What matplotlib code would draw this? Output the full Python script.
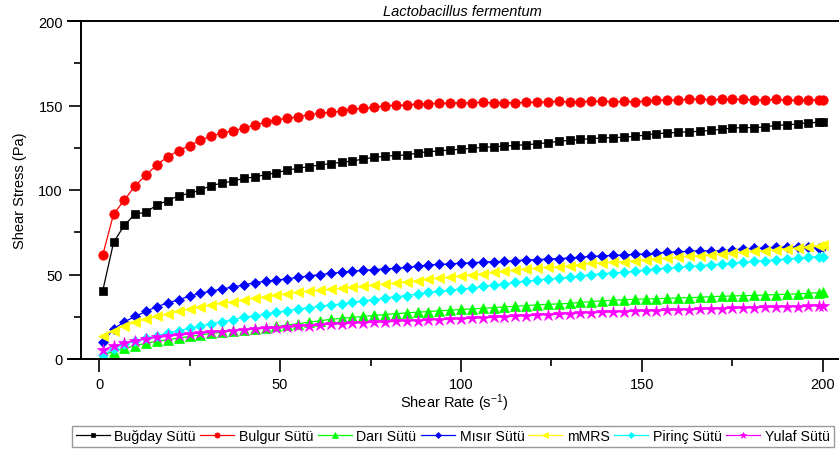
import numpy as np
import matplotlib
matplotlib.use("Agg")
import matplotlib.pyplot as plt
from matplotlib.ticker import MultipleLocator

plt.rcParams["font.family"] = ["Liberation Sans", "DejaVu Sans"]
plt.rcParams["mathtext.fontset"] = "custom"
plt.rcParams["mathtext.rm"] = "Liberation Sans"
plt.rcParams["mathtext.it"] = "Liberation Sans:italic"

# Shear rate grid (s^-1)
shear_rate = np.append(np.arange(1, 200, 3), 200)

bugday = [40.4, 69.0, 79.3, 85.8, 86.8, 91.3, 93.7, 96.6, 98.0, 100.0,
          102.6, 104.1, 105.3, 106.9, 107.7, 109.1, 110.2, 111.8, 112.8, 113.9,
          114.8, 115.6, 116.4, 117.2, 118.3, 119.3, 119.9, 120.5, 120.7, 121.9,
          122.7, 123.1, 123.7, 124.1, 124.7, 125.2, 125.6, 126.0, 126.4,
          126.8, 127.3, 128.0, 128.8, 129.4, 129.9, 130.4, 130.8, 131.0,
          131.2, 131.8, 132.5, 133.3, 133.7, 134.1, 134.5, 134.7, 135.3, 135.9,
          136.7, 136.9, 136.9, 137.3, 138.3, 138.5, 139.1, 139.8, 140.0,
          140.4]

bulgur = [61.5, 85.8, 94.1, 102.6, 108.9, 115.0, 119.7, 123.3, 126.2, 129.6,
          131.8, 133.7, 135.1, 136.5, 138.5, 140.0, 141.6, 142.4, 143.4, 144.4,
          145.4, 146.0, 146.7, 147.9, 148.3, 148.9, 149.9, 150.1, 150.1, 151.1,
          151.1, 151.3, 151.5, 151.7, 151.7, 151.9, 151.5, 151.7, 151.7,
          151.9, 151.9, 152.3, 152.5, 152.1, 152.3, 152.5, 152.5, 152.3,
          152.4, 152.3, 152.7, 153.3, 153.3, 153.3, 153.8, 153.8, 153.4, 153.8,
          153.6, 153.6, 153.3, 153.3, 153.6, 153.1, 153.1, 153.4, 153.3,
          153.3]

dari = [2.6, 4.3, 6.3, 7.9, 9.3, 10.5, 11.4, 12.4, 13.4, 14.2,
        15.2, 15.8, 16.8, 17.2, 17.8, 18.5, 19.3, 20.1, 20.9, 21.8,
        22.6, 23.5, 24.1, 24.6, 25.2, 25.8, 26.3, 26.8, 27.3, 27.7,
        28.1, 28.5, 28.9, 29.3, 29.6, 30.0, 30.4, 30.8, 31.2,
        31.6, 32.0, 32.4, 32.6, 32.9, 33.5, 33.9, 34.5, 34.7,
        35.1, 35.3, 35.5, 35.7, 35.9, 36.1, 36.3, 36.5, 36.9, 37.1,
        37.3, 37.5, 37.6, 37.9, 38.1, 38.3, 38.5, 38.9, 39.3,
        39.4]

misir = [9.9, 17.8, 22.1, 25.2, 28.2, 31.0, 33.1, 35.1, 37.1, 38.9,
         40.2, 41.4, 42.6, 43.8, 45.2, 46.0, 46.7, 47.5, 48.3, 49.1,
         50.0, 50.7, 51.3, 51.9, 52.5, 52.9, 53.3, 53.6, 54.2, 54.8,
         55.6, 56.0, 56.2, 56.8, 56.9, 57.4, 57.6, 57.8, 58.2,
         58.6, 58.8, 59.2, 59.4, 59.8, 60.2, 60.7, 61.0, 61.3,
         61.6, 61.9, 62.1, 62.7, 63.1, 63.5, 63.7, 64.1, 63.9, 64.1,
         64.7, 65.1, 65.5, 65.7, 66.1, 66.1, 66.5, 66.5, 65.9,
         66.1]

mmrs = [13.6, 16.8, 19.7, 21.7, 23.7, 25.2, 26.6, 28.2, 29.6, 31.0,
        32.0, 33.1, 33.9, 34.9, 36.1, 36.9, 37.9, 38.7, 39.4, 40.1,
        40.7, 41.4, 41.8, 42.4, 43.0, 43.8, 44.4, 45.0, 45.8, 46.4,
        47.3, 47.9, 48.3, 49.3, 49.9, 50.3, 51.3, 51.8, 52.7,
        53.3, 53.6, 54.2, 54.6, 55.2, 55.8, 56.6, 57.0, 57.3,
        57.6, 58.2, 58.8, 59.2, 59.6, 60.2, 60.7, 61.1, 61.7, 62.1,
        62.7, 63.1, 63.7, 64.1, 64.7, 65.1, 65.7, 66.5, 67.1,
        67.5]

pirinc = [2.2, 6.0, 8.9, 10.5, 12.4, 13.8, 15.4, 16.8, 18.1, 19.7,
          20.7, 22.1, 23.3, 24.6, 25.6, 26.6, 27.6, 28.6, 29.6, 30.3,
          31.2, 32.0, 32.5, 33.5, 34.5, 35.1, 36.1, 36.9, 37.5, 38.5,
          39.4, 40.0, 40.8, 41.4, 42.0, 43.0, 43.8, 44.4, 45.4,
          45.9, 46.7, 47.3, 47.9, 48.3, 49.3, 49.9, 50.5, 50.9,
          51.3, 51.9, 52.7, 53.3, 53.8, 54.2, 54.8, 55.2, 55.8, 56.2,
          56.8, 57.2, 57.8, 58.2, 58.8, 59.2, 59.6, 60.2, 60.5,
          60.6]

yulaf = [5.3, 7.9, 9.3, 10.8, 11.8, 12.8, 13.4, 14.2, 14.8, 15.4,
         15.8, 16.2, 16.8, 17.2, 17.8, 18.1, 18.3, 18.7, 19.3, 19.7,
         20.1, 20.7, 20.9, 21.1, 21.5, 21.7, 21.9, 22.3, 22.5, 22.7,
         23.1, 23.3, 23.5, 23.7, 24.1, 24.3, 24.6, 25.0, 25.3,
         25.6, 25.9, 26.2, 26.5, 26.8, 27.1, 27.4, 27.6, 27.8,
         28.0, 28.2, 28.4, 28.6, 28.8, 29.0, 29.2, 29.4, 29.6, 29.8,
         30.0, 30.2, 30.4, 30.6, 30.8, 30.8, 31.0, 31.2, 31.6,
         31.6]

series_names = ["Buğday Sütü", "Bulgur Sütü", "Darı Sütü", "Mısır Sütü",
                "mMRS", "Pirinç Sütü", "Yulaf Sütü"]
series_values = [bugday, bulgur, dari, misir, mmrs, pirinc, yulaf]
colors = ["#000000", "#FF0000", "#00FF00", "#0000FF", "#FFFF00", "#00FFFF", "#FF00FF"]
markers = ["s", "o", "^", "D", "<", "D", "*"]
msizes = [6.0, 6.8, 6.8, 5.6, 7.0, 5.6, 8.6]

W, H = 839, 452
fig = plt.figure(figsize=(W / 100, H / 100), dpi=100)

x_lo, x_hi = -8.6, 205.0
ax = fig.add_axes([68 / W, (H - 360) / H, (841 - 68) / W, (360 - 22) / H])

for name, vals, c, m, ms in zip(series_names, series_values, colors, markers, msizes):
    ax.plot(shear_rate, vals, color=c, marker=m, markersize=ms, linewidth=0.9,
            markeredgewidth=0.5, markeredgecolor=c, label=name)

ax.set_xlim(x_lo, x_hi)
ax.set_ylim(0, 200)

ax.spines["left"].set_position(("data", -5.0))
ax.spines["right"].set_visible(False)
for s in ("left", "bottom", "top"):
    ax.spines[s].set_linewidth(1.4)

ax.xaxis.set_major_locator(MultipleLocator(50))
ax.xaxis.set_minor_locator(MultipleLocator(25))
ax.yaxis.set_major_locator(MultipleLocator(50))
ax.yaxis.set_minor_locator(MultipleLocator(25))
ax.tick_params(which="both", direction="out", width=1.2, top=False, right=False,
               labelsize=10.5)
ax.tick_params(which="major", length=9, pad=4)
ax.tick_params(which="minor", length=5)

ax.set_xlabel("Shear Rate (s$^{-1}$)", fontsize=10.5, labelpad=0)
ax.set_ylabel("Shear Stress (Pa)", fontsize=10.5, labelpad=8)
ax.set_title("Lactobacillus fermentum", fontsize=10.5, style="italic", pad=4,
             x=(462 - 68) / (841 - 68))

leg = fig.legend(loc="upper left", bbox_to_anchor=(72 / W, 1 - 426.5 / H),
                 ncol=7, fontsize=10.2, frameon=True, fancybox=False,
                 edgecolor="#808080", handlelength=2.4, handletextpad=0.35,
                 columnspacing=0.28, borderpad=0.25, borderaxespad=0,
                 markerscale=0.55)
leg.get_frame().set_linewidth(1.0)

fig.savefig("out.png", dpi=100)
